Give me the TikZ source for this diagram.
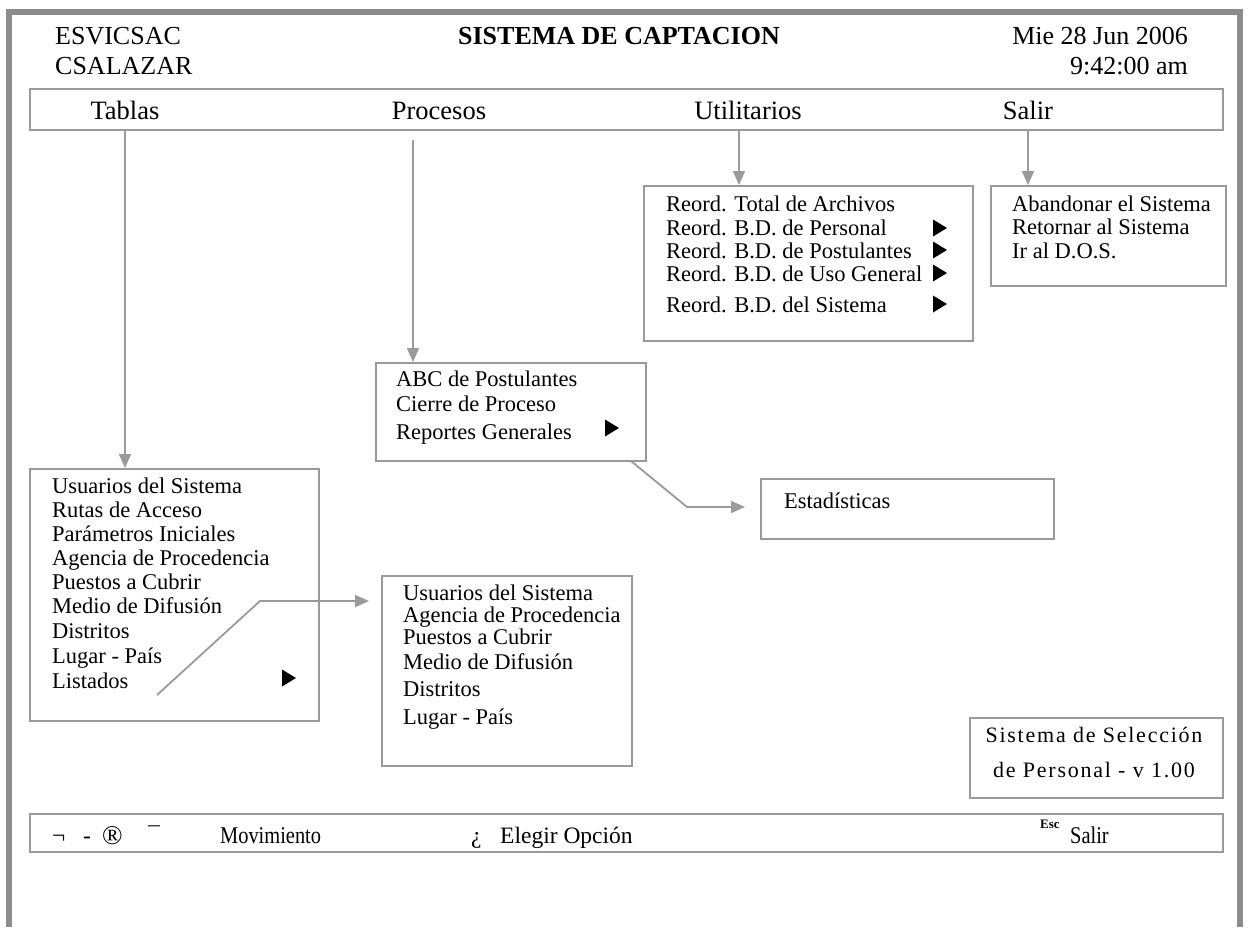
\documentclass[tikz,border=0pt]{standalone}
\usepackage{fontspec}
\setmainfont{Liberation Serif}
\usetikzlibrary{arrows.meta,calc}
\definecolor{framegray}{HTML}{8C8C8C}
\definecolor{boxgray}{HTML}{9A9A9A}

\begin{document}
\begin{tikzpicture}[x=1pt,y=-1pt,
  box/.style={draw=boxgray,line width=1.8pt,inner sep=0pt,anchor=north west,fill=white},
  item/.style={anchor=base west,inner sep=0pt,font=\fontsize{22.5}{24}\selectfont},
  hdr/.style={inner sep=0pt,font=\fontsize{26}{28}\selectfont},
  menu/.style={anchor=base,inner sep=0pt,font=\fontsize{26.5}{28}\selectfont},
  foot/.style={anchor=base west,inner sep=0pt,font=\fontsize{24}{26}\selectfont\addfontfeature{FakeStretch=0.85}},
  footwide/.style={anchor=base west,inner sep=0pt,font=\fontsize{23.5}{26}\selectfont},
  arr/.style={draw=boxgray,line width=1.8pt,-{Triangle[width=12pt,length=14pt]}},
  tri/.pic={\fill (0,-8.5) -- (14,0) -- (0,8.5) -- cycle;}]

\useasboundingbox (0,0) rectangle (1250,927);
\fill[white] (0,0) rectangle (1250,927);

% outer screen frame, open at the bottom
\draw[framegray,line width=6pt] (9,927) -- (9,12) -- (1240,12) -- (1240,927);

% header
\node[hdr,anchor=base west] (org) at (55,44) {ESVICSAC};
\node[hdr,anchor=base west] (usr) at (55,74) {CSALAZAR};
\node[hdr,anchor=base,font=\fontsize{26}{28}\selectfont\bfseries] (title) at (619,44) {SISTEMA DE CAPTACION};
\node[hdr,anchor=base east] (date) at (1188,44) {Mie 28 Jun 2006};
\node[hdr,anchor=base east] (time) at (1188,74) {9:42:00 am};

% menu bar
\node[box,minimum width=1193pt,minimum height=41pt] (bar) at (29,88) {};
\node[menu] (mTab) at (125,119) {Tablas};
\node[menu] (mPro) at (439,119) {Procesos};
\node[menu] (mUti) at (748,119) {Utilitarios};
\node[menu] (mSal) at (1028,119) {Salir};

% Utilitarios menu
\node[box,minimum width=329pt,minimum height=155pt] (util) at (643,185) {};
\node[item] (u1) at (666,211) {Reord. Total de Archivos};
\node[item] (u2) at (666,235) {Reord. B.D. de Personal};
\node[item] (u3) at (666,258) {Reord. B.D. de Postulantes};
\node[item] (u4) at (666,281) {Reord. B.D. de Uso General};
\node[item] (u5) at (666,312) {Reord. B.D. del Sistema};
\pic at (933,228) {tri};
\pic at (933,250) {tri};
\pic at (933,273) {tri};
\pic at (933,304) {tri};

% Salir menu
\node[box,minimum width=235pt,minimum height=100pt] (sal) at (990,185) {};
\node[item] (s1) at (1012,211) {Abandonar el Sistema};
\node[item] (s2) at (1012,234) {Retornar al Sistema};
\node[item] (s3) at (1012,258) {Ir al D.O.S.};

% Procesos menu
\node[box,minimum width=270pt,minimum height=98pt] (proc) at (375,362) {};
\node[item] (p1) at (396,386) {ABC de Postulantes};
\node[item] (p2) at (396,411) {Cierre de Proceso};
\node[item] (p3) at (396,439) {Reportes Generales};
\pic at (605,428) {tri};

% Estadisticas submenu
\node[box,minimum width=293pt,minimum height=60pt] (est) at (760,478) {};
\node[item] (e1) at (784,508) {Estadísticas};

% Tablas menu
\node[box,minimum width=289pt,minimum height=252pt] (tbl) at (29,468) {};
\node[item] (t1) at (52,493) {Usuarios del Sistema};
\node[item] (t2) at (52,517) {Rutas de Acceso};
\node[item] (t3) at (52,541) {Parámetros Iniciales};
\node[item] (t4) at (52,565) {Agencia de Procedencia};
\node[item] (t5) at (52,589) {Puestos a Cubrir};
\node[item] (t6) at (52,613) {Medio de Difusión};
\node[item] (t7) at (52,638) {Distritos};
\node[item] (t8) at (52,663) {Lugar - País};
\node[item] (t9) at (52,688) {Listados};
\pic at (282,678) {tri};

% Listados submenu
\node[box,minimum width=250pt,minimum height=190pt] (lst) at (381,575) {};
\node[item] (l1) at (403,600) {Usuarios del Sistema};
\node[item] (l2) at (403,622) {Agencia de Procedencia};
\node[item] (l3) at (403,644) {Puestos a Cubrir};
\node[item] (l4) at (403,669) {Medio de Difusión};
\node[item] (l5) at (403,696) {Distritos};
\node[item] (l6) at (403,724) {Lugar - País};

% version box
\node[box,minimum width=253pt,minimum height=80pt] (ver) at (969,717) {};
\node[anchor=base,inner sep=0pt,font=\fontsize{22}{24}\selectfont\addfontfeature{LetterSpace=8}] (v1) at (1094,742) {Sistema de Selección};
\node[anchor=base,inner sep=0pt,font=\fontsize{22}{24}\selectfont\addfontfeature{LetterSpace=8}] (v2) at (1094,777) {de Personal - v 1.00};

% key bar
\node[box,minimum width=1193pt,minimum height=38pt] (keys) at (29,813) {};
\node[footwide] (k1a) at (52,843) {¬};
\node[footwide] (k1b) at (83,843) {-};
\node[footwide,font=\fontsize{27}{28}\selectfont] (k1c) at (102,844) {®};
\node[footwide] (k1d) at (148,843) {¯};
\node[foot] (k2) at (220,843) {Movimiento};
\node[footwide] (k3) at (471,843) {¿};
\node[footwide] (k4) at (500,843) {Elegir Opción};
\node[anchor=base west,inner sep=0pt,font=\fontsize{13}{14}\selectfont\bfseries] (k5) at (1040,828) {Esc};
\node[foot] (k6) at (1070,843) {Salir};

% connectors from the menu bar
\coordinate (tTop) at (125,129);
\coordinate (pTop) at (413,140);
\coordinate (uTop) at (739,129);
\coordinate (sTop) at (1028,129);
\draw[arr] (tTop) -- (tTop |- tbl.north);
\draw[arr] (pTop) -- (pTop |- proc.north);
\draw[arr] (uTop) -- (uTop |- util.north);
\draw[arr] (sTop) -- (sTop |- sal.north);

% connectors into the submenus
\coordinate (rgFrom) at (631,461);
\coordinate (rgBend) at (687,507);
\draw[arr,shorten >=15pt] (rgFrom) -- (rgBend) -- (rgBend -| est.west);
\coordinate (lsFrom) at (157,695);
\coordinate (lsBend) at (260,601);
\draw[arr,shorten >=12pt] (lsFrom) -- (lsBend) -- (lsBend -| lst.west);
\end{tikzpicture}
\end{document}
